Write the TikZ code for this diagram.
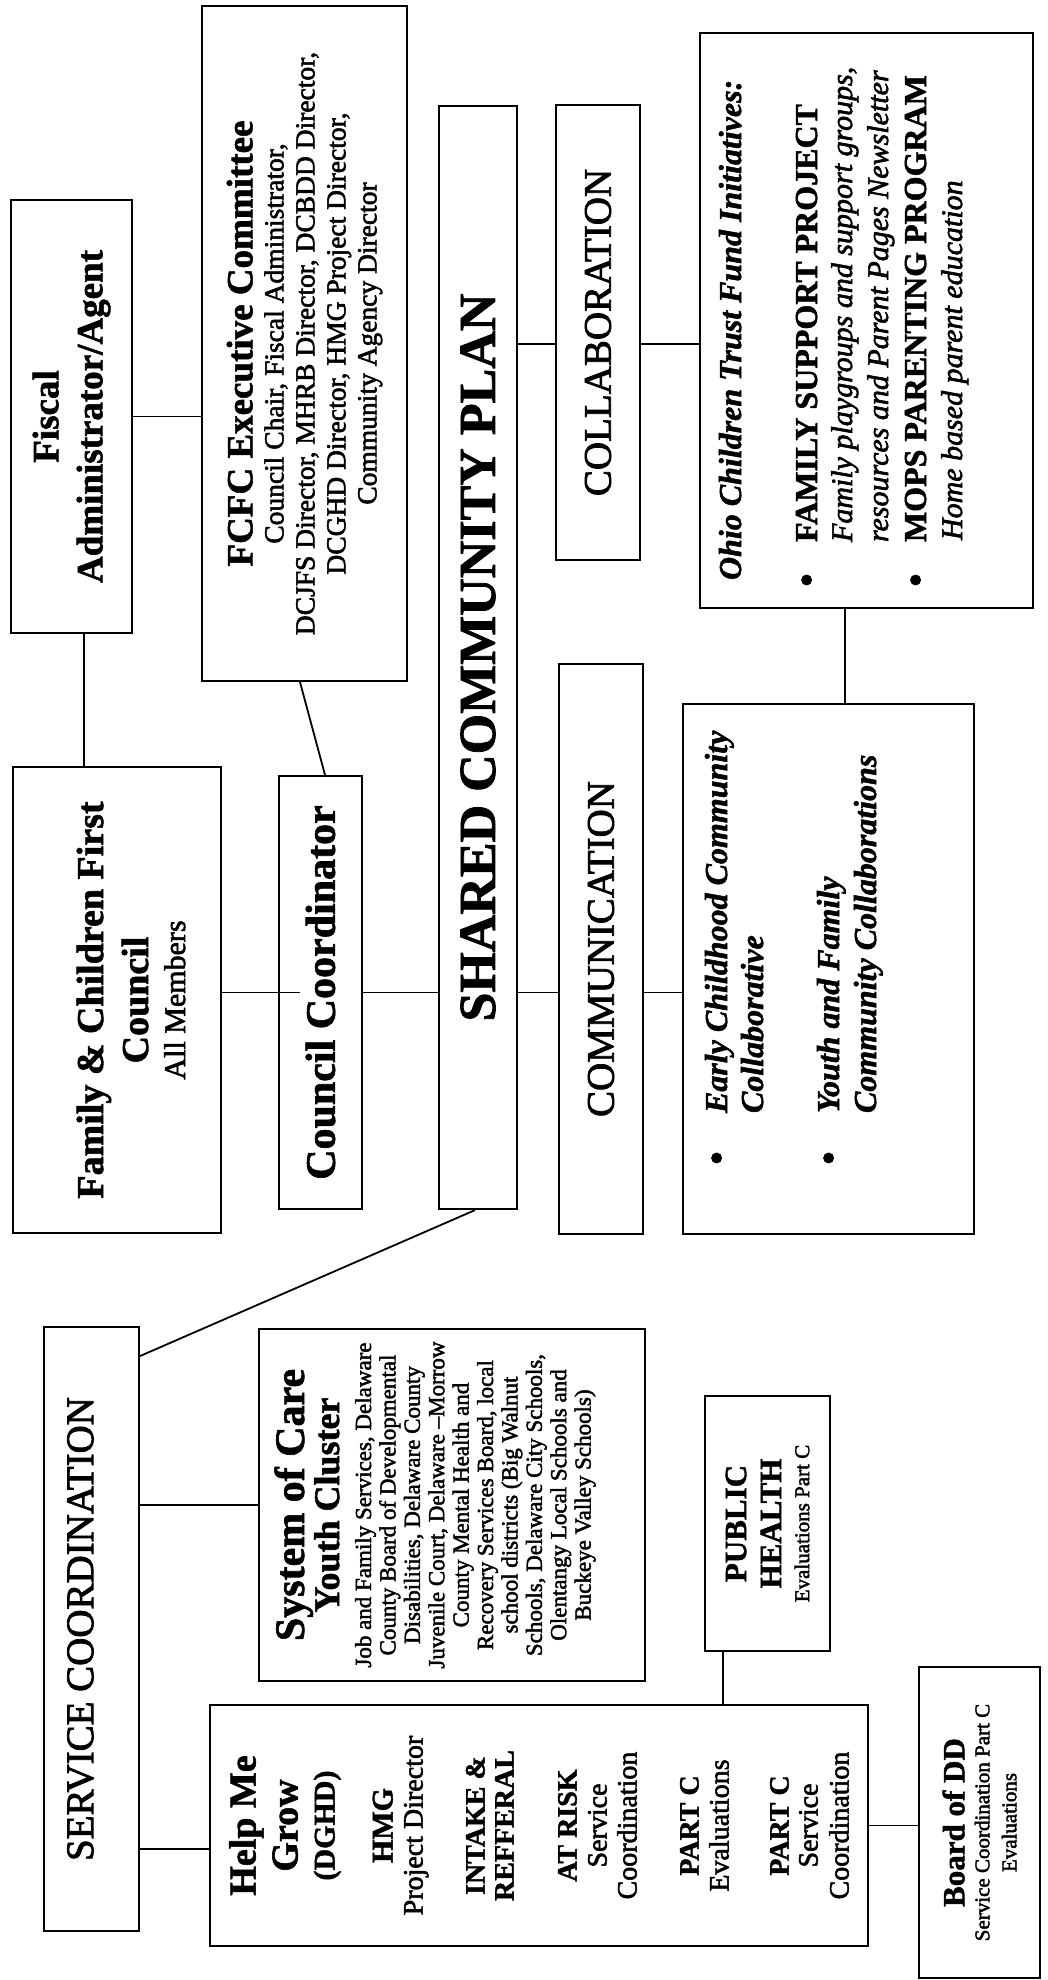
\documentclass[tikz,border=0pt]{standalone}
\usepackage{fontspec}
\setmainfont{Liberation Serif}[UprightFeatures={FakeBold=2},ItalicFeatures={FakeBold=2},BoldFeatures={FakeBold=1.5},BoldItalicFeatures={FakeBold=1.5}]
\usepackage{graphicx}
\newcommand{\tline}[3]{{\fontsize{#1}{#2}\selectfont #3\par}}
\newcommand{\boxtext}[3]{\rotatebox{90}{\raisebox{#1}[\height][\depth]{\begin{minipage}{#2}\centering\lineskiplimit=-1000pt\relax #3\end{minipage}}}}
\newcommand{\bigdot}{\makebox[0pt]{\raisebox{-3.5pt}{\fontsize{42}{42}\selectfont\textbullet}}}
\begin{document}
\begin{tikzpicture}[x=1pt,y=-1pt,
  box/.style={draw, line width=2.2pt, inner sep=0pt},
  conn/.style={line width=1.8pt}]
\fill[white] (0,0) rectangle (1047,1980);
\useasboundingbox (0,0) rectangle (1047,1980);

% ---------- boxes ----------
\node[box, minimum width=121pt, minimum height=433pt] (fiscal) at (71.5,416.5)
 {\boxtext{0pt}{420pt}{\tline{37}{44}{\textbf{Fiscal}}\tline{37}{44}{\textbf{Administrator/Agent}}}};

\node[box, minimum width=205pt, minimum height=675pt] (fcfc) at (304.5,343.5)
 {\boxtext{0pt}{660pt}{\tline{37}{40}{\textbf{FCFC Executive Committee}}
  \tline{27.5}{31}{Council Chair, Fiscal Administrator,}
  \tline{27.5}{31}{DCJFS Director, MHRB Director, DCBDD Director,}
  \tline{27.5}{31}{DCGHD Director, HMG Project Director,}
  \tline{27.5}{31}{Community Agency Director}}};

\node[box, minimum width=208pt, minimum height=466pt] (family) at (117,1000)
 {\boxtext{-14pt}{455pt}{\tline{38}{44}{\textbf{Family \& Children First}}
  \tline{38}{45}{\textbf{Council}}\tline{30}{37}{All Members}}};

\node[box, minimum width=83pt, minimum height=433pt] (cc) at (320.5,992.5)
 {\boxtext{0pt}{420pt}{\tline{42}{46}{\textbf{Council Coordinator}}}};

\node[box, minimum width=78pt, minimum height=1103pt] (shared) at (478,657.5)
 {\boxtext{0pt}{1090pt}{\tline{52}{56}{\textbf{SHARED COMMUNITY PLAN}}}};

\node[box, minimum width=84pt, minimum height=455pt] (collab) at (598,332.5)
 {\boxtext{0pt}{440pt}{\tline{39}{44}{COLLABORATION}}};

\node[box, minimum width=84pt, minimum height=570pt] (comm) at (601,949)
 {\boxtext{0pt}{560pt}{\tline{39}{44}{COMMUNICATION}}};

\node[box, minimum width=333pt, minimum height=575pt] (ohio) at (866.5,320.5)
 {\rotatebox{90}{\begin{minipage}[c][333pt][t]{575pt}\raggedright\parindent=0pt\lineskiplimit=-1000pt\relax
  \tline{32}{32}{\rule{0pt}{41pt}\hspace*{28pt}\textbf{\textit{Ohio Children Trust Fund Initiatives:}}}
  \tline{32}{76}{\hspace*{28pt}\bigdot\hspace*{38pt}\textbf{FAMILY SUPPORT PROJECT}}
  \tline{30}{35}{\hspace*{66pt}\textit{Family playgroups and support groups,}}
  \tline{30}{36}{\hspace*{66pt}\textit{resources and Parent Pages Newsletter}}
  \tline{32}{38}{\hspace*{28pt}\bigdot\hspace*{38pt}\textbf{MOPS PARENTING PROGRAM}}
  \tline{30}{36}{\hspace*{68pt}\textit{Home based parent education}}
  \end{minipage}}};

\node[box, minimum width=291pt, minimum height=530pt] (early) at (828.5,969)
 {\rotatebox{90}{\begin{minipage}[c][291pt][t]{530pt}\raggedright\parindent=0pt\lineskiplimit=-1000pt\relax
  \tline{32}{32}{\rule{0pt}{44pt}\hspace*{76pt}\bigdot\hspace*{45pt}\textbf{\textit{Early Childhood Community}}}
  \tline{32}{36}{\hspace*{121pt}\textbf{\textit{Collaborative}}}
  \tline{32}{76}{\hspace*{76pt}\bigdot\hspace*{45pt}\textbf{\textit{Youth and Family}}}
  \tline{32}{37}{\hspace*{121pt}\textbf{\textit{Community Collaborations}}}
  \end{minipage}}};

\node[box, minimum width=95pt, minimum height=604pt] (sc) at (91.5,1629)
 {\boxtext{11pt}{590pt}{\tline{39}{44}{SERVICE COORDINATION}}};

\node[box, minimum width=386pt, minimum height=352pt] (soc) at (452,1505)
 {\boxtext{17pt}{345pt}{\tline{42}{42}{\textbf{System of Care}}
  \tline{36}{35}{\textbf{Youth Cluster}}
  \tline{23}{32}{Job and Family Services, Delaware}
  \tline{23}{24.4}{County Board of Developmental}
  \tline{23}{24.4}{Disabilities, Delaware County}
  \tline{23}{24.4}{Juvenile Court, Delaware –Morrow}
  \tline{23}{24.4}{County Mental Health and}
  \tline{23}{24.4}{Recovery Services Board, local}
  \tline{23}{24.4}{school districts (Big Walnut}
  \tline{23}{24.4}{Schools, Delaware City Schools,}
  \tline{23}{24.4}{Olentangy Local Schools and}
  \tline{23}{24.4}{Buckeye Valley Schools)}}};

\node[box, minimum width=658pt, minimum height=241pt] (hmg) at (539,1825.5)
 {\boxtext{0pt}{230pt}{\tline{38}{42}{\textbf{Help Me}}
  \tline{38}{42}{\textbf{Grow}}
  \tline{30}{37}{\textbf{(DGHD)}}
  \tline{30}{58}{\textbf{HMG}}
  \tline{28}{30}{Project Director}
  \tline{28}{62}{\textbf{INTAKE \&}}
  \tline{28}{29}{\textbf{REFFERAL}}
  \tline{28}{63}{\textbf{AT RISK}}
  \tline{28}{30}{Service}
  \tline{28}{30}{Coordination}
  \tline{28}{62}{\textbf{PART C}}
  \tline{28}{30}{Evaluations}
  \tline{28}{60}{\textbf{PART C}}
  \tline{28}{29}{Service}
  \tline{28}{31}{Coordination}}};

\node[box, minimum width=125pt, minimum height=255pt] (ph) at (767.5,1523.5)
 {\boxtext{0pt}{240pt}{\tline{31}{35}{\textbf{PUBLIC}}\tline{31}{35}{\textbf{HEALTH}}\tline{21}{28}{Evaluations Part C}}};

\node[box, minimum width=121pt, minimum height=311pt] (bdd) at (979.5,1822.5)
 {\boxtext{0pt}{300pt}{\tline{31}{35}{\textbf{Board of DD}}\tline{21}{25}{Service Coordination Part C}\tline{21}{27}{Evaluations}}};

% ---------- connectors ----------
\coordinate (ly) at (0,344);
\coordinate (lx) at (845,0);
\coordinate (lsc) at (0,1356);
\coordinate (lhmg) at (0,1849);
\coordinate (lph) at (723,0);
\coordinate (fb) at ([xshift=12.5pt]fiscal.south);
\coordinate (fs) at ([xshift=-4.5pt]fcfc.south);
\coordinate (cn) at ([xshift=4.5pt]cc.north);
\coordinate (ss) at ([xshift=-3pt]shared.south);
\coordinate (ccin) at ([xshift=22pt]cc.west);

\draw[conn] (fb) -- (fb |- family.north);
\draw[conn] (fiscal.east) -- (fiscal.east -| fcfc.west);
\draw[conn] (fs) -- (cn);
\draw[conn] (family.east |- cc.west) -- (ccin);
\draw[conn] (cc.east) -- (cc.east -| shared.west);
\draw[conn] (shared.east |- cc.east) -- (comm.west |- cc.east);
\draw[conn] (comm.east |- cc.east) -- (early.west |- cc.east);
\draw[conn] (shared.east |- ly) -- (collab.west |- ly);
\draw[conn] (collab.east |- ly) -- (ohio.west |- ly);
\draw[conn] (ohio.south -| lx) -- (early.north -| lx);
\draw[conn] (ss) -- (sc.east |- lsc);
\draw[conn] (sc.east |- soc.west) -- (soc.west);
\draw[conn] (sc.east |- lhmg) -- (hmg.west |- lhmg);
\draw[conn] (ph.south -| lph) -- (hmg.north -| lph);
\draw[conn] (hmg.east) -- (hmg.east -| bdd.west);
\end{tikzpicture}
\end{document}
